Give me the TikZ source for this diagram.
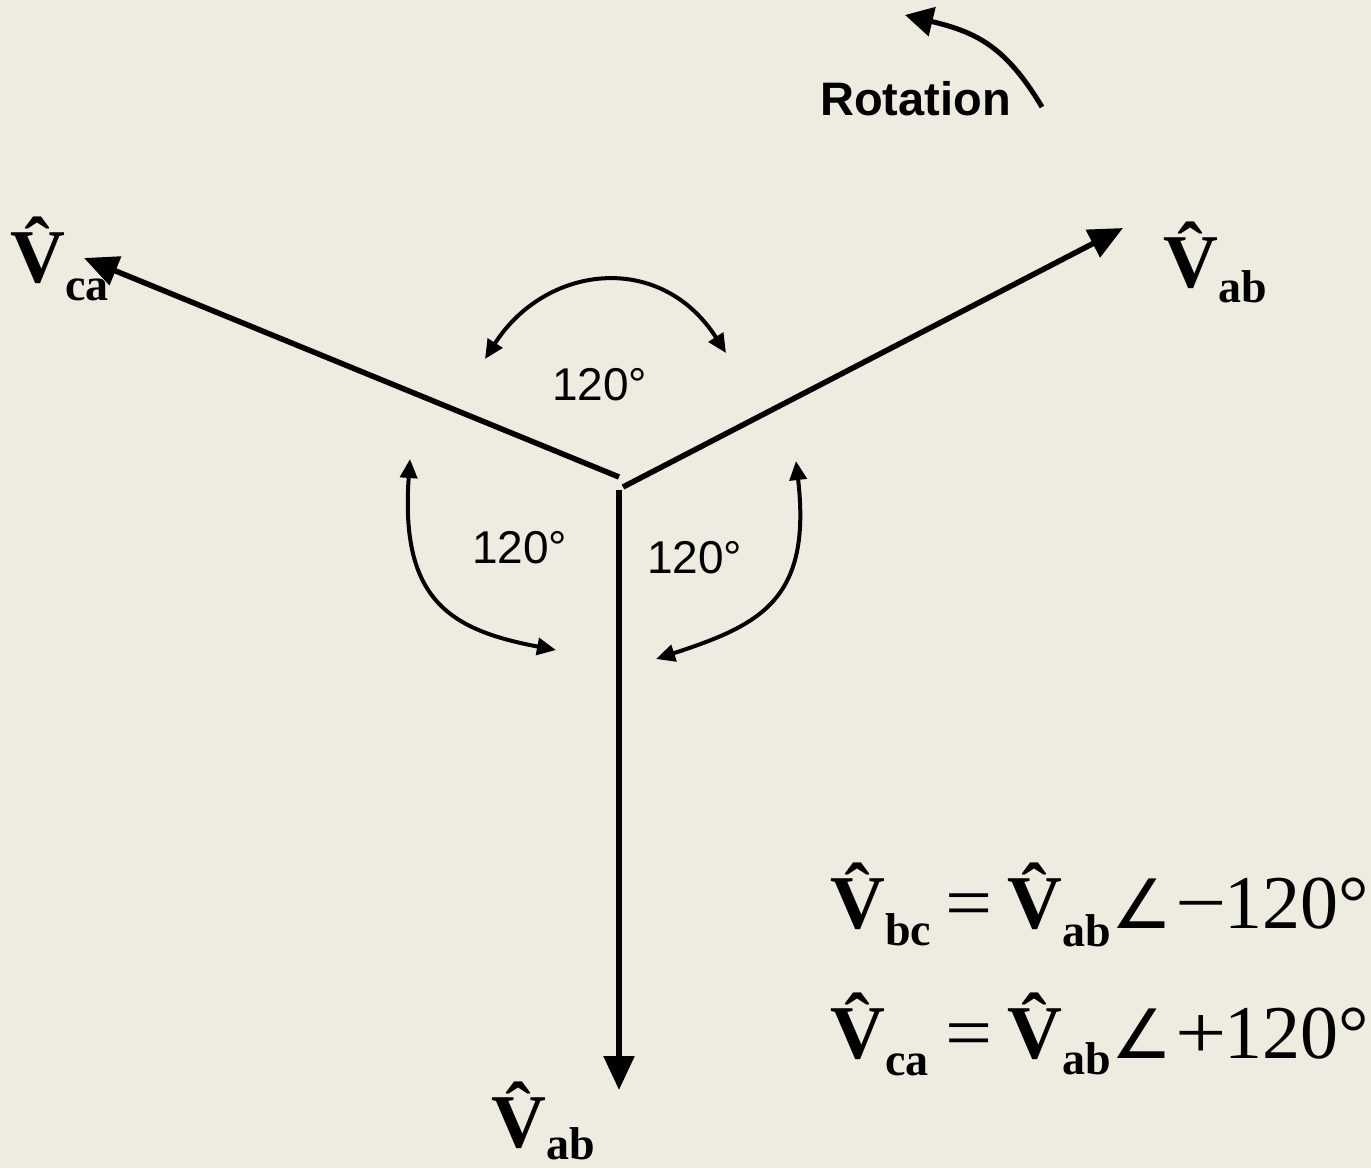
\documentclass[tikz,border=0pt]{standalone}
\usepackage{fontspec}
\usepackage{graphicx}
\setmainfont{Liberation Serif}
\newfontfamily\arialf{Liberation Sans}
\newfontfamily\symf{DejaVu Sans}
\usetikzlibrary{arrows.meta}
\definecolor{bgc}{RGB}{238,235,224}
\tikzset{
  phasor/.style={line width=5.5pt, -{Triangle[length=34pt,width=30pt]}},
  arcarrow/.style={line width=4pt, {Triangle[length=19pt,width=17pt]}-{Triangle[length=19pt,width=17pt]}},
  rotarrow/.style={line width=5pt, -{Triangle[length=28pt,width=29pt]}},
  anglabel/.style={inner sep=0pt, anchor=base west, font=\arialf\fontsize{46}{46}\selectfont},
  vlabel/.style={inner sep=0pt, anchor=base west, font=\fontsize{76}{76}\selectfont\bfseries},
  eqline/.style={inner sep=0pt, anchor=base west, font=\fontsize{76}{76}\selectfont},
}
\newcommand{\subtx}[2]{\raisebox{-#1pt}{\fontsize{46}{46}\selectfont\bfseries #2}}
\newcommand{\angsym}{{\symf\fontsize{68}{68}\selectfont ∠}}
\begin{document}
\begin{tikzpicture}[x=1pt,y=-1pt]
\fill[bgc] (0,0) rectangle (1371,1168);
\useasboundingbox (0,0) rectangle (1371,1168);
% centre points
\coordinate (cL) at (619,477);
\coordinate (cR) at (623,487);
\coordinate (cD) at (619,490);
\coordinate (tCA) at (84,258);
\coordinate (tAB) at (1123,228);
\coordinate (tD) at (619,1090);
\draw[phasor] (cL) -- (tCA);
\draw[phasor] (cR) -- (tAB);
\draw[phasor] (cD) -- (tD);
% angle arcs
\coordinate (a1) at (485,359);
\coordinate (a2) at (726,353);
\draw[arcarrow] (a1) .. controls (545,265) and (660,250) .. (a2);
\coordinate (b1) at (410,459);
\coordinate (b2) at (556,650);
\draw[arcarrow] (b1) .. controls (400,600) and (450,630) .. (b2);
\coordinate (c1) at (796,461);
\coordinate (c2) at (656,659);
\draw[arcarrow] (c1) .. controls (812,600) and (760,625) .. (c2);
% rotation
\coordinate (r1) at (1042,107);
\coordinate (r2) at (905,15);
\draw[rotarrow] (r1) .. controls (1005,45) and (975,32) .. (r2);
\node[inner sep=0pt, anchor=base west, font=\arialf\bfseries\fontsize{47}{47}\selectfont] (rot) at (820,115) {Rotation};
% angle labels
\node[anglabel] (l1) at (552,400) {120°};
\node[anglabel] (l2) at (472,563) {120°};
\node[anglabel] (l3) at (647,573) {120°};
% phasor labels
\node[vlabel] (vca) at (10,282) {\^{V}\subtx{18}{ca}};
\node[vlabel] (vab) at (1163,287) {\^{V}\subtx{15}{ab}};
\node[vlabel] (vbc) at (491,1147) {\^{V}\subtx{12}{ab}};
% equations
\node[eqline] (eq1) at (830,928) {\makebox[115pt][l]{\bfseries\^{V}\subtx{17}{bc}}\makebox[62pt][l]{\scalebox{1.1}[1]{=}}\makebox[104pt][l]{\bfseries\^{V}\subtx{18}{ab}}\makebox[64pt][l]{\angsym}\makebox[49pt][l]{\scalebox{1.2}[1]{−}}120°};
\node[eqline] (eq2) at (830,1058) {\makebox[115pt][l]{\bfseries\^{V}\subtx{17}{ca}}\makebox[62pt][l]{\scalebox{1.1}[1]{=}}\makebox[104pt][l]{\bfseries\^{V}\subtx{16}{ab}}\makebox[64pt][l]{\angsym}\makebox[49pt][l]{\scalebox{1.2}[1]{+}}120°};
\end{tikzpicture}
\end{document}
